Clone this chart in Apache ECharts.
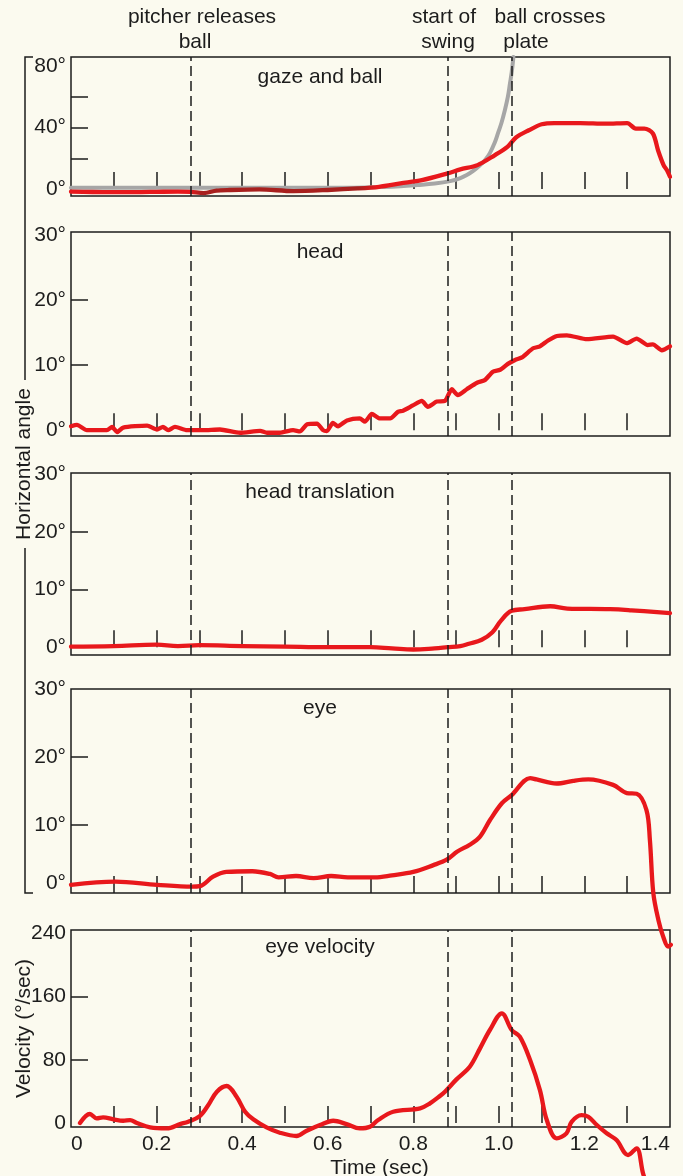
<!DOCTYPE html>
<html>
<head>
<meta charset="utf-8">
<script src="https://cdn.jsdelivr.net/npm/echarts@6.0.0/dist/echarts.min.js"></script>
<style>
html,body{margin:0;padding:0;background:#fbfaef;}
#chart{width:683px;height:1176px;}
</style>
</head>
<body>
<div id="chart"></div>
<script>
// ---------- data (time in sec, angle in degrees / velocity in deg/sec) ----------
const eventTimes = [0.278, 0.882, 1.035];
const eventLabelLines = [['pitcher releases', 'ball'], ['start of', 'swing'], ['ball crosses', 'plate']];
const panelTitles = ['gaze and ball', 'head', 'head translation', 'eye', 'eye velocity'];

const timeTickLabels = [0, 0.2, 0.4, 0.6, 0.8, 1.0, 1.2, 1.4];
const timeTicks = [0.1, 0.2, 0.3, 0.4, 0.5, 0.6, 0.7, 0.8, 0.9, 1.0, 1.1, 1.2, 1.3];

const gazeLabels = [0, 40, 80];
const gazeTicks = [20, 40, 60];
const angleLabels = [0, 10, 20, 30];
const angleTicks = [10, 20];
const velocityLabels = [0, 80, 160, 240];
const velocityTicks = [80, 160];

const ballData = [
  [0, 0.8], [0.3, 0.8], [0.5, 0.8], [0.65, 0.9], [0.72, 1.3], [0.77, 1.8], [0.81, 2.6],
  [0.85, 3.6], [0.886, 5.2], [0.91, 7.2], [0.925, 9.1], [0.94, 11.8], [0.956, 15.6],
  [0.968, 19], [0.979, 23.4], [0.99, 30], [0.998, 36.4], [1.006, 43], [1.014, 51.3],
  [1.021, 60], [1.026, 68.8], [1.030, 76], [1.034, 86]
];

const gazeData = [
  [0.00, -1.7], [0.05, -1.9], [0.10, -2.0], [0.15, -2.0], [0.20, -1.8], [0.25, -1.6],
  [0.28, -1.8], [0.31, -2.6], [0.34, -1.0], [0.37, -0.6], [0.44, -0.2], [0.52, -1.3],
  [0.60, -0.6], [0.67, 0.4], [0.72, 1.5], [0.77, 3.7], [0.82, 5.8], [0.88, 10.2],
  [0.91, 12.8], [0.95, 15.6], [0.99, 22], [1.02, 27.5], [1.04, 33.6], [1.07, 38.3],
  [1.10, 42.2], [1.13, 43], [1.19, 43], [1.25, 42.6], [1.30, 43], [1.32, 39.4],
  [1.34, 39.4], [1.36, 36.2], [1.372, 25.3], [1.385, 15.6], [1.393, 12.3], [1.40, 8]
];

const headData = [
  [0.000, 0.6], [0.014, 0.8], [0.037, 0.0], [0.084, 0.0], [0.096, 0.5], [0.108, -0.3],
  [0.122, 0.4], [0.178, 0.7], [0.201, 0.1], [0.215, 0.5], [0.227, 0.0], [0.243, 0.5],
  [0.271, 0.0], [0.308, 0.0], [0.348, 0.1], [0.395, -0.4], [0.442, -0.1], [0.458, -0.4],
  [0.488, -0.4], [0.519, 0.0], [0.535, -0.2], [0.552, 0.9], [0.575, 1.0], [0.589, 0.0],
  [0.598, -0.15], [0.612, 1.1], [0.624, 0.6], [0.645, 1.5], [0.675, 1.8], [0.687, 1.3],
  [0.703, 2.5], [0.722, 1.8], [0.746, 1.8], [0.764, 2.8], [0.776, 3.0], [0.799, 3.8],
  [0.820, 4.5], [0.834, 3.6], [0.855, 4.4], [0.874, 4.5], [0.890, 6.3], [0.904, 5.4],
  [0.925, 6.3], [0.949, 7.3], [0.967, 7.7], [0.986, 9.0], [1.003, 9.3], [1.021, 10.2],
  [1.038, 10.8], [1.054, 11.2], [1.080, 12.6], [1.096, 12.9], [1.115, 13.8], [1.136, 14.5],
  [1.159, 14.6], [1.206, 14.0], [1.267, 14.4], [1.299, 13.4], [1.322, 14.1], [1.348, 13.1],
  [1.360, 13.2], [1.381, 12.3], [1.400, 12.9]
];

const headTranslationData = [
  [0.0, 0.1], [0.1, 0.2], [0.2, 0.45], [0.25, 0.2], [0.3, 0.35], [0.4, 0.2], [0.5, 0.1],
  [0.6, 0.0], [0.7, 0.0], [0.75, -0.2], [0.8, -0.4], [0.85, -0.2], [0.88, 0.0], [0.91, 0.2],
  [0.93, 0.6], [0.96, 1.3], [0.985, 2.6], [1.005, 4.6], [1.03, 6.3], [1.06, 6.6],
  [1.12, 7.1], [1.16, 6.7], [1.26, 6.6], [1.31, 6.4], [1.40, 5.9]
];

const eyeData = [
  [0.000, 1.2], [0.103, 1.66], [0.201, 1.2], [0.283, 0.93], [0.301, 1.0], [0.332, 2.4],
  [0.363, 3.1], [0.424, 3.2], [0.465, 2.8], [0.485, 2.3], [0.526, 2.5], [0.567, 2.2],
  [0.608, 2.5], [0.647, 2.3], [0.710, 2.3], [0.750, 2.6], [0.800, 3.1], [0.847, 4.1],
  [0.878, 4.9], [0.903, 6.1], [0.932, 7.1], [0.956, 8.3], [0.979, 10.7], [1.007, 13.2],
  [1.030, 14.4], [1.073, 16.9], [1.088, 16.7], [1.135, 16.1], [1.174, 16.5], [1.209, 16.7],
  [1.267, 15.9], [1.299, 14.7], [1.322, 14.6], [1.345, 12.2], [1.353, 7.8], [1.361, 0],
  [1.373, -4], [1.384, -6.4], [1.396, -7.9], [1.402, -7.6]
];

const eyeVelocityData = [
  [0.021, 0], [0.044, 11.4], [0.060, 5.9], [0.075, 7.2], [0.099, 4.7], [0.122, 2.9],
  [0.138, 3.8], [0.154, 0], [0.185, -5.5], [0.224, -6.7], [0.255, -1.3], [0.274, 1.7],
  [0.301, 8.8], [0.321, 22.8], [0.341, 39.6], [0.364, 46.8], [0.387, 33.3], [0.407, 14.3],
  [0.426, 4.7], [0.457, -5.5], [0.488, -12.2], [0.527, -16.4], [0.551, -9.7], [0.582, -2.5],
  [0.613, 2.9], [0.644, -1.3], [0.675, -6.7], [0.699, -4.6], [0.718, 3.8], [0.753, 14.3],
  [0.816, 18.6], [0.839, 24.9], [0.862, 34.1], [0.874, 39.6], [0.901, 55.2], [0.932, 71.2],
  [0.956, 94.4], [0.979, 117.6], [1.007, 138.7], [1.030, 117.6], [1.049, 109.1], [1.073, 79.6],
  [1.096, 41.7], [1.112, 3.8], [1.135, -19.3], [1.158, -13], [1.170, 1.6], [1.193, 10.1],
  [1.209, 8.0], [1.229, -2.5], [1.252, -13], [1.275, -21.5], [1.302, -40.5], [1.322, -32],
  [1.337, -63.6], [1.345, -75]
];

// ---------- layout / style ----------
const FONT = '"Liberation Sans", Arial, Helvetica, sans-serif';
const INK = '#1c1c1c';
const RED = '#e8181c';
const DARK_RED = '#a8201e';   // where the red gaze trace overprints the grey ball trace
const grids = [
  { top: 57, height: 139, ymin: -4.5, ymax: 86, labels: gazeLabels, ticks: gazeTicks, deg: true },
  { top: 232, height: 204, ymin: -0.9, ymax: 30.5, labels: angleLabels, ticks: angleTicks, deg: true },
  { top: 473, height: 182, ymin: -1.35, ymax: 30.2, labels: angleLabels, ticks: angleTicks, deg: true },
  { top: 689, height: 204, ymin: 0, ymax: 30, labels: angleLabels, ticks: angleTicks, deg: true, liftZero: true },
  { top: 930, height: 197, ymin: -5, ymax: 244, labels: velocityLabels, ticks: velocityTicks, deg: false }
];
const titleY = [77, 252, 492, 708, 947];

const chart = echarts.init(document.getElementById('chart'), null, { renderer: 'canvas' });

const markLineFor = () => ({
  silent: true,
  symbol: 'none',
  label: { show: false },
  lineStyle: { color: INK, type: [10, 5], width: 1.5 },
  data: eventTimes.map(t => ({ xAxis: t }))
});

const lineSeries = (name, idx, data, extra) => Object.assign({
  name, type: 'line', xAxisIndex: idx, yAxisIndex: idx, data,
  showSymbol: false, smooth: 0.3,
  lineStyle: { color: RED, width: 4.3, cap: 'round', join: 'round' },
  z: 3, animation: false
}, extra || {});

const gazeColor = new echarts.graphic.LinearGradient(0, 0, 1, 0, [
  { offset: 0, color: RED }, { offset: 0.2, color: RED },
  { offset: 0.22, color: DARK_RED }, { offset: 0.48, color: DARK_RED },
  { offset: 0.51, color: RED }, { offset: 1, color: RED }
]);

const option = {
  backgroundColor: '#fbfaef',
  animation: false,
  grid: grids.map(g => ({
    left: 71, right: 13, top: g.top, height: g.height,
    outerBoundsMode: 'none', containLabel: false,
    show: true, borderColor: INK, borderWidth: 1.5, backgroundColor: 'transparent'
  })),
  xAxis: grids.map((g, i) => ({
    type: 'value', gridIndex: i, min: 0, max: 1.4,
    axisLine: { show: false },
    splitLine: { show: false },
    axisTick: { show: true, inside: true, length: 17, customValues: timeTicks,
      lineStyle: { color: INK, width: 1.5 } },
    axisLabel: {
      show: i === 4, customValues: timeTickLabels, margin: 7,
      color: INK, fontFamily: FONT, fontSize: 21,
      alignMinLabel: 'left', alignMaxLabel: 'right',
      formatter: v => (v === 0 ? '0' : v.toFixed(1))
    },
    name: i === 4 ? 'Time (sec)' : '',
    nameLocation: 'middle', nameGap: 31, nameMoveOverlap: false,
    nameTextStyle: { color: INK, fontFamily: FONT, fontSize: 21, padding: [0, 0, 0, 18] }
  })),
  yAxis: grids.map((g, i) => ({
    type: 'value', gridIndex: i, min: g.ymin, max: g.ymax,
    axisLine: { show: false },
    splitLine: { show: false },
    axisTick: { show: true, inside: true, length: 17, customValues: g.ticks,
      lineStyle: { color: INK, width: 1.5 } },
    axisLabel: {
      show: true, customValues: g.labels, margin: 5,
      color: INK, fontFamily: FONT, fontSize: 21,
      formatter: v => {
        const s = g.deg ? v + '°' : String(v);
        return (g.liftZero && v === 0) ? '{z|' + s + '}' : s;
      },
      rich: { z: { fontFamily: FONT, fontSize: 21, color: INK, padding: [0, 0, 20, 0] } }
    },
    name: i === 4 ? 'Velocity (°/sec)' : '',
    nameLocation: 'middle', nameGap: 36, nameMoveOverlap: false,
    nameTextStyle: { color: INK, fontFamily: FONT, fontSize: 21 }
  })),
  series: [
    lineSeries('ball', 0, ballData, {
      lineStyle: { color: '#a6a6a6', width: 4, cap: 'round' }, z: 2, smooth: 0.4
    }),
    lineSeries('gaze', 0, gazeData, {
      lineStyle: { color: gazeColor, width: 4.3, cap: 'round', join: 'round' },
      markLine: markLineFor()
    }),
    lineSeries('head', 1, headData, { smooth: 0.2, markLine: markLineFor() }),
    lineSeries('head translation', 2, headTranslationData, { smooth: 0.4, markLine: markLineFor() }),
    lineSeries('eye', 3, eyeData, { clip: false, smooth: 0.35, markLine: markLineFor() }),
    lineSeries('eye velocity', 4, eyeVelocityData, { clip: false, smooth: 0.35, markLine: markLineFor() })
  ],
  graphic: [
    // event annotations above the top panel
    { type: 'text', x: 202, y: 17, style: { text: eventLabelLines[0][0], font: '21px ' + FONT, fill: INK, textAlign: 'center', textVerticalAlign: 'middle' } },
    { type: 'text', x: 195, y: 42, style: { text: eventLabelLines[0][1], font: '21px ' + FONT, fill: INK, textAlign: 'center', textVerticalAlign: 'middle' } },
    { type: 'text', x: 444, y: 17, style: { text: eventLabelLines[1][0], font: '21px ' + FONT, fill: INK, textAlign: 'center', textVerticalAlign: 'middle' } },
    { type: 'text', x: 448, y: 42, style: { text: eventLabelLines[1][1], font: '21px ' + FONT, fill: INK, textAlign: 'center', textVerticalAlign: 'middle' } },
    { type: 'text', x: 550, y: 17, style: { text: eventLabelLines[2][0], font: '21px ' + FONT, fill: INK, textAlign: 'center', textVerticalAlign: 'middle' } },
    { type: 'text', x: 526, y: 42, style: { text: eventLabelLines[2][1], font: '21px ' + FONT, fill: INK, textAlign: 'center', textVerticalAlign: 'middle' } },
    // panel titles
    ...panelTitles.map((t, i) => ({
      type: 'text', x: 320, y: titleY[i],
      style: { text: t, font: '21px ' + FONT, fill: INK, textAlign: 'center', textVerticalAlign: 'middle' }
    })),
    // shared "Horizontal angle" bracket
    { type: 'polyline', shape: { points: [[33, 57], [25, 57], [25, 380]] }, style: { stroke: INK, lineWidth: 1.5, fill: null } },
    { type: 'polyline', shape: { points: [[25, 548], [25, 893], [33, 893]] }, style: { stroke: INK, lineWidth: 1.5, fill: null } },
    { type: 'text', x: 24, y: 464, rotation: Math.PI / 2,
      style: { text: 'Horizontal angle', font: '21px ' + FONT, fill: INK, textAlign: 'center', textVerticalAlign: 'middle' } }
  ]
};

chart.setOption(option);
</script>
</body>
</html>
